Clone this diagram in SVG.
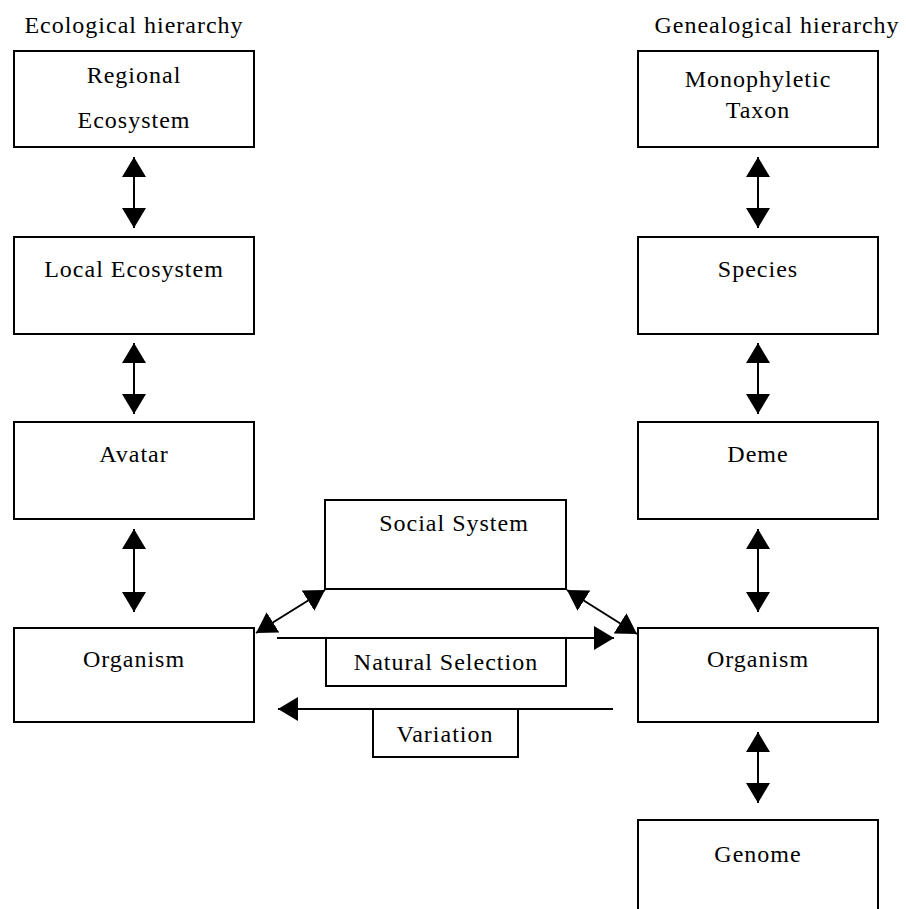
<svg xmlns="http://www.w3.org/2000/svg" width="906" height="909" viewBox="0 0 906 909">
<style>
rect{fill:#fff;stroke:#000;stroke-width:2}
text{font-family:"Liberation Serif","Times New Roman",serif;font-size:24px;letter-spacing:1px;fill:#000;text-anchor:middle}
.c line{stroke:#000;stroke-width:2;fill:none}
</style>
<defs>
<marker id="ah" markerUnits="userSpaceOnUse" viewBox="0 0 20 24" markerWidth="20" markerHeight="24" refX="20" refY="12" orient="auto-start-reverse">
<path d="M0,0 L20,12 L0,24 Z" fill="#000"/>
</marker>
</defs>
<rect width="906" height="909" style="stroke:none"/>
<text x="134" y="33">Ecological hierarchy</text>
<text x="777" y="33">Genealogical hierarchy</text>
<g id="regional"><rect x="14" y="51" width="240" height="96"/><text x="134" y="83">Regional</text><text x="134" y="128">Ecosystem</text></g>
<g id="local"><rect x="14" y="237" width="240" height="97"/><text x="134" y="277">Local Ecosystem</text></g>
<g id="avatar"><rect x="14" y="422" width="240" height="97"/><text x="134" y="462">Avatar</text></g>
<g id="organism-l"><rect x="14" y="628" width="240" height="94"/><text x="134" y="667">Organism</text></g>
<g id="taxon"><rect x="638" y="51" width="240" height="96"/><text x="758" y="87">Monophyletic</text><text x="758" y="118">Taxon</text></g>
<g id="species"><rect x="638" y="237" width="240" height="97"/><text x="758" y="277">Species</text></g>
<g id="deme"><rect x="638" y="422" width="240" height="97"/><text x="758" y="462">Deme</text></g>
<g id="organism-r"><rect x="638" y="628" width="240" height="94"/><text x="758" y="667">Organism</text></g>
<g id="genome"><rect x="638" y="820" width="240" height="100"/><text x="758" y="862">Genome</text></g>
<g id="social"><rect x="325" y="500" width="241" height="89"/><text x="454" y="531">Social System</text></g>
<g class="c" id="connectors">
<line x1="134" y1="157" x2="134" y2="228" marker-start="url(#ah)" marker-end="url(#ah)"/>
<line x1="134" y1="343" x2="134" y2="414" marker-start="url(#ah)" marker-end="url(#ah)"/>
<line x1="134" y1="529" x2="134" y2="612" marker-start="url(#ah)" marker-end="url(#ah)"/>
<line x1="758" y1="157" x2="758" y2="228" marker-start="url(#ah)" marker-end="url(#ah)"/>
<line x1="758" y1="343" x2="758" y2="414" marker-start="url(#ah)" marker-end="url(#ah)"/>
<line x1="758" y1="529" x2="758" y2="612" marker-start="url(#ah)" marker-end="url(#ah)"/>
<line x1="758" y1="732" x2="758" y2="803" marker-start="url(#ah)" marker-end="url(#ah)"/>
<line x1="256" y1="633" x2="325" y2="590" marker-start="url(#ah)" marker-end="url(#ah)"/>
<line x1="567" y1="590" x2="637" y2="634" marker-start="url(#ah)" marker-end="url(#ah)"/>
<line x1="277" y1="638" x2="614" y2="638" marker-end="url(#ah)"/>
<line x1="613" y1="709" x2="278" y2="709" marker-end="url(#ah)"/>
</g>
<g id="natural-selection"><rect x="326" y="638" width="240" height="48"/><text x="446" y="670">Natural Selection</text></g>
<g id="variation"><rect x="373" y="709" width="145" height="48"/><text x="445" y="742">Variation</text></g>
</svg>
